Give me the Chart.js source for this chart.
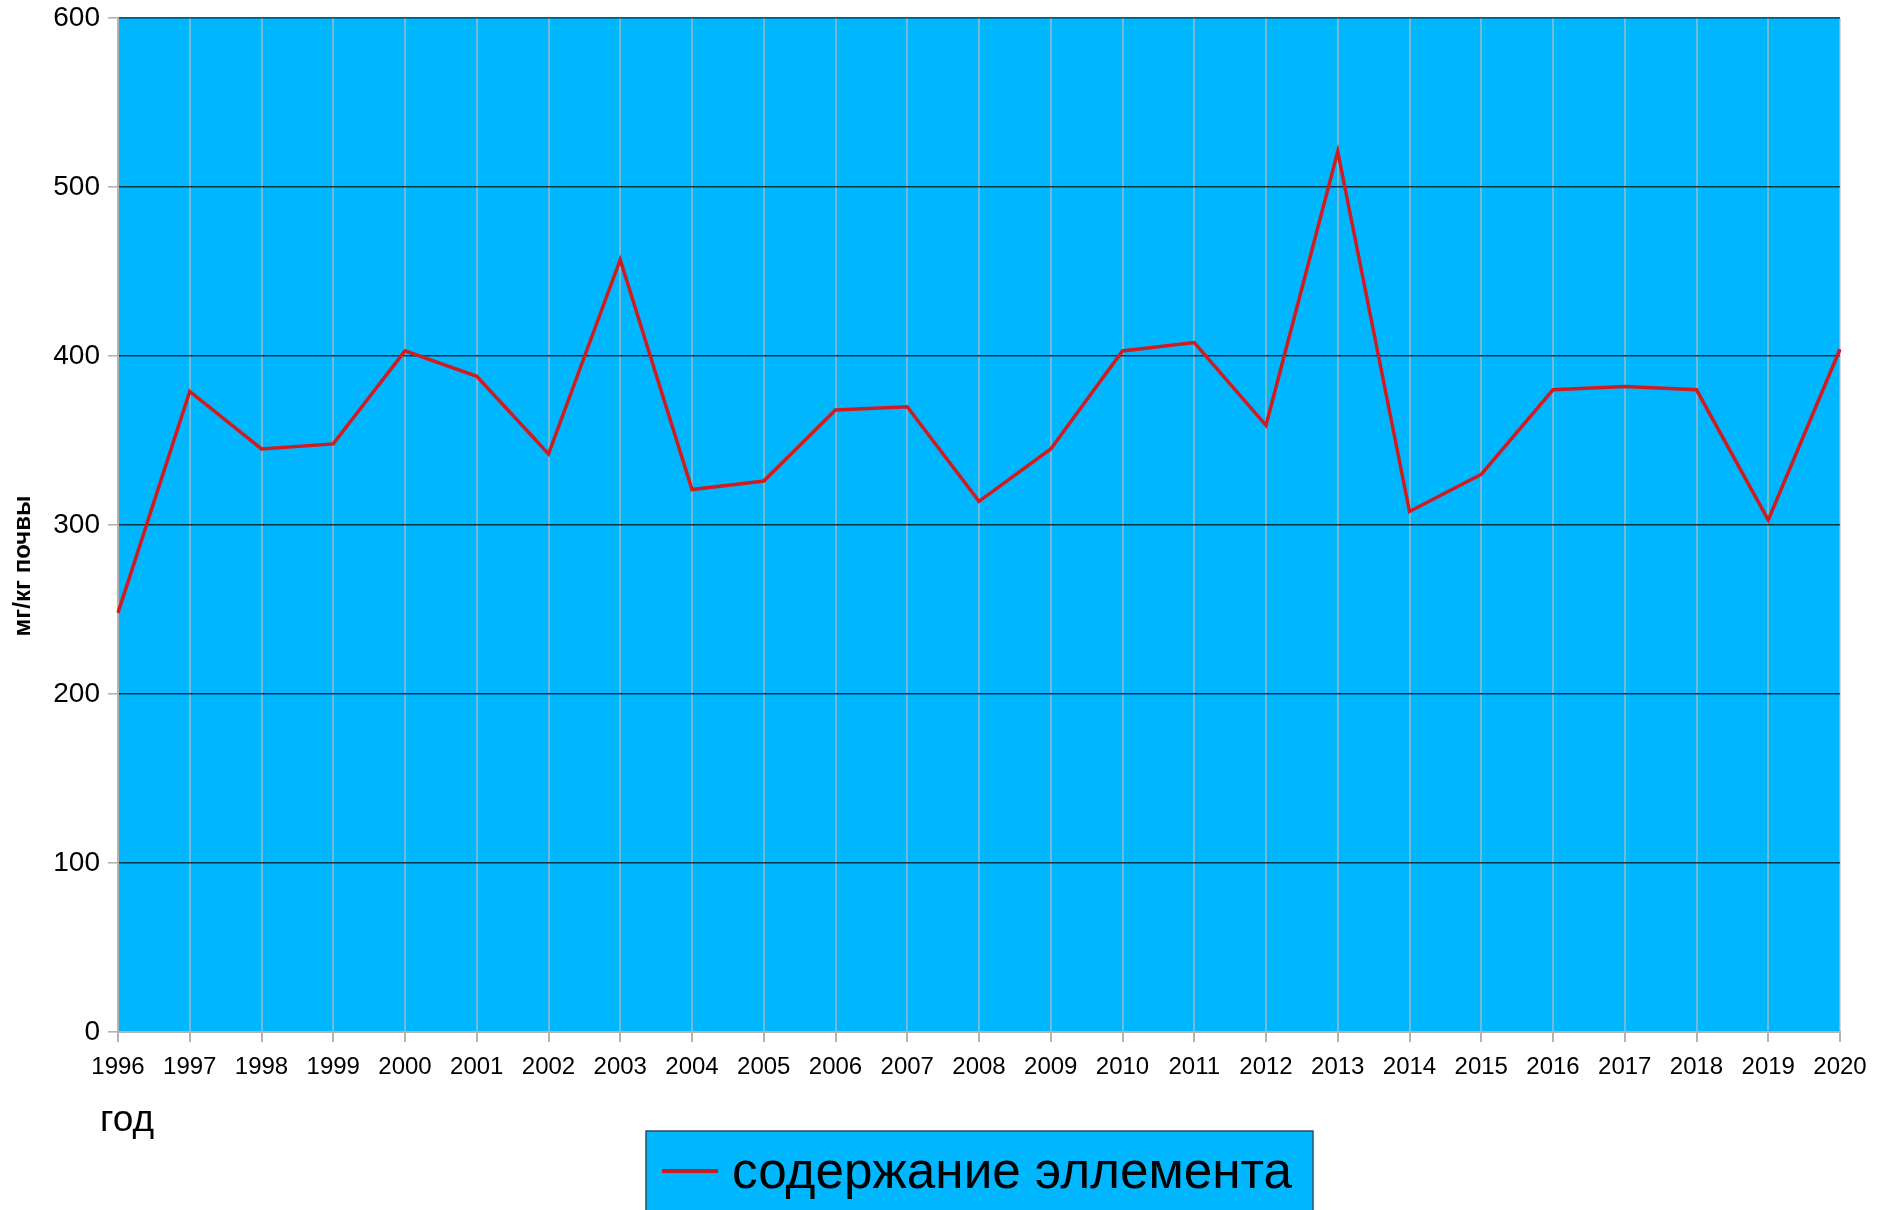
<!DOCTYPE html>
<html>
<head>
<meta charset="utf-8">
<script src="https://cdn.jsdelivr.net/npm/chart.js@4.4.1/dist/chart.umd.min.js"></script>
<style>
  body { margin: 0; background: #ffffff; }
  #wrap { width: 1890px; height: 1210px; }
</style>
</head>
<body>
<div id="wrap"><canvas id="soilChart" width="1890" height="1210"></canvas></div>
<script>
// данные графика
const years = ['1996', '1997', '1998', '1999', '2000', '2001', '2002', '2003', '2004', '2005',
    '2006', '2007', '2008', '2009', '2010', '2011', '2012', '2013', '2014', '2015',
    '2016', '2017', '2018', '2019', '2020'];
const elementValues = [248, 379, 345, 348, 403, 388, 342, 457, 321, 326,
    368, 370, 314, 345, 403, 408, 359, 521, 308, 330,
    380, 382, 380, 303, 404];
const yMin = 0;
const yMax = 600;
const yStep = 100;
const seriesName = 'содержание эллемента';
const xTitle = 'год';
const yTitle = 'мг/кг почвы';

const plotBlue = '#00b6ff';
const lineRed = '#d01c1f';
const axisGray = '#b3b3b3';

// фон области построения, легенда в рамке и подписи осей
const decorPlugin = {
    id: 'decor',
    beforeDraw(chart) {
        const ctx = chart.ctx;
        const area = chart.chartArea;
        ctx.save();
        ctx.fillStyle = plotBlue;
        ctx.fillRect(area.left, area.top, area.right - area.left, area.bottom - area.top);
        ctx.restore();
    },
    afterDraw(chart) {
        const ctx = chart.ctx;
        const area = chart.chartArea;
        ctx.save();
        ctx.fillStyle = '#000000';
        ctx.font = '37px "Liberation Sans", Arial, sans-serif';
        ctx.textAlign = 'left';
        ctx.textBaseline = 'middle';
        ctx.fillText(xTitle, area.left - 18, area.bottom + 89);

        ctx.save();
        ctx.translate(area.left - 95, area.top + 548);
        ctx.rotate(-Math.PI / 2);
        ctx.font = 'bold 24px "Liberation Sans", Arial, sans-serif';
        ctx.textAlign = 'center';
        ctx.fillText(yTitle, 0, 0);
        ctx.restore();

        // легенда
        const ds = chart.data.datasets[0];
        const cx = (area.left + area.right) / 2;
        const boxLeft = cx - 333;
        const boxTop = area.bottom + 99;
        ctx.fillStyle = plotBlue;
        ctx.fillRect(boxLeft, boxTop, 667, 200);
        ctx.strokeStyle = '#2b4f63';
        ctx.lineWidth = 1.5;
        ctx.strokeRect(boxLeft, boxTop, 667, 200);

        ctx.strokeStyle = ds.borderColor;
        ctx.lineWidth = 4;
        ctx.beginPath();
        ctx.moveTo(boxLeft + 16, boxTop + 40);
        ctx.lineTo(boxLeft + 72, boxTop + 40);
        ctx.stroke();

        ctx.font = '52px "Liberation Sans", Arial, sans-serif';
        ctx.textBaseline = 'alphabetic';
        ctx.textAlign = 'left';
        const w = ctx.measureText(ds.label).width;
        ctx.translate(boxLeft + 86, boxTop + 57);
        ctx.scale(560 / w, 1);
        ctx.fillStyle = '#000000';
        ctx.fillText(ds.label, 0, 0);
        ctx.restore();
    }
};

const ctx = document.getElementById('soilChart').getContext('2d');
const soilChart = new Chart(ctx, {
    type: 'line',
    data: {
        labels: years,
        datasets: [
            {
                label: seriesName,
                data: elementValues,
                borderColor: lineRed,
                backgroundColor: lineRed,
                borderWidth: 3.5,
                pointRadius: 0,
                tension: 0,
                fill: false
            }
        ]
    },
    options: {
        responsive: false,
        animation: false,
        devicePixelRatio: 1,
        layout: {
            padding: { top: 18, left: 0, right: 50, bottom: 0 }
        },
        scales: {
            x: {
                offset: false,
                afterFit(scale) { scale.height = 178; scale.paddingLeft = 0; },
                grid: {
                    color: 'rgba(190, 190, 190, 0.6)',
                    lineWidth: 2,
                    tickColor: axisGray,
                    tickLength: 10,
                    offset: false
                },
                border: { color: axisGray, width: 2 },
                ticks: {
                    color: '#000000',
                    padding: 11,
                    maxRotation: 0,
                    autoSkip: false,
                    font: { family: '"Liberation Sans", Arial, sans-serif', size: 24 }
                }
            },
            y: {
                min: yMin,
                max: yMax,
                afterFit(scale) { scale.width = 118; scale.paddingTop = 0; scale.paddingBottom = 0; },
                grid: {
                    color: (c) => (c.tick && c.tick.value === 0 ? axisGray : 'rgba(0, 0, 0, 0.72)'),
                    lineWidth: 1.6,
                    tickColor: axisGray,
                    tickLength: 10
                },
                border: { color: axisGray, width: 2 },
                ticks: {
                    stepSize: yStep,
                    color: '#000000',
                    padding: 8,
                    font: { family: '"Liberation Sans", Arial, sans-serif', size: 28 }
                }
            }
        },
        plugins: {
            legend: { display: false },
            tooltip: { enabled: false }
        }
    },
    plugins: [decorPlugin]
});
</script>
</body>
</html>
